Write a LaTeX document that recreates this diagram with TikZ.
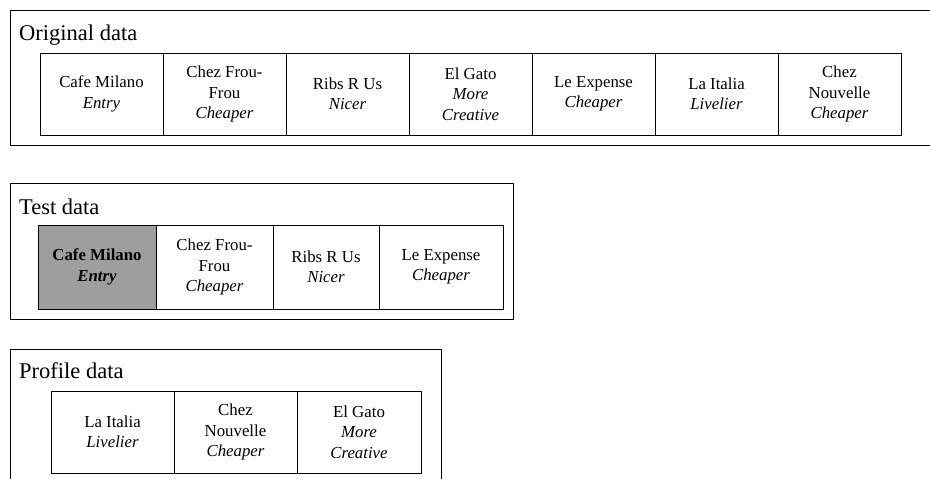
\documentclass[tikz,border=0pt]{standalone}
\usepackage{fontspec}
\setmainfont{Liberation Serif}
\tikzset{
  frame/.style={draw=black, line width=0.9pt},
  title/.style={anchor=base west, inner sep=0pt, font=\fontsize{22.5}{26}\selectfont},
  cell/.style={draw=black, line width=1pt, inner sep=0pt, align=center,
    font=\fontsize{16.8}{20.5}\selectfont},
  shaded/.style={cell, fill=black!38}
}
\begin{document}
\begin{tikzpicture}[x=1pt,y=-1pt]
\clip (0,0) rectangle (930,479);
\fill[white] (0,0) rectangle (930,479);
% Original data
\draw[frame] (945,10) -- (10,10) -- (10,145) -- (945,145);
\node[title] (t1) at (19,40) {Original data};
\node[cell, minimum width=123pt, minimum height=82pt] (o1) at (101.5,94) {Cafe Milano\\\textit{Entry}};
\node[cell, minimum width=123pt, minimum height=82pt] (o2) at (224.5,94) {Chez Frou-\\Frou\\\textit{Cheaper}};
\node[cell, minimum width=123pt, minimum height=82pt] (o3) at (347.5,94) {Ribs R Us\\\textit{Nicer}};
\node[cell, minimum width=123pt, minimum height=82pt] (o4) at (470.5,94) {El Gato\\\textit{More}\\\textit{Creative}};
\node[cell, minimum width=123pt, minimum height=82pt] (o5) at (593.5,94) {Le Expense\\\textit{Cheaper}};
\node[cell, minimum width=123pt, minimum height=82pt] (o6) at (716.5,94) {La Italia\\\textit{Livelier}};
\node[cell, minimum width=123pt, minimum height=82pt] (o7) at (839.5,94) {Chez\\Nouvelle\\\textit{Cheaper}};
% Test data
\draw[frame] (10,183) rectangle (513,319);
\node[title] (t2) at (19,214) {Test data};
\node[shaded, minimum width=118pt, minimum height=84pt] (s1) at (97,267) {\textbf{Cafe Milano}\\\textbf{\textit{Entry}}};
\node[cell, minimum width=117pt, minimum height=84pt] (s2) at (214.5,267) {Chez Frou-\\Frou\\\textit{Cheaper}};
\node[cell, minimum width=106pt, minimum height=84pt] (s3) at (326,267) {Ribs R Us\\\textit{Nicer}};
\node[cell, minimum width=124pt, minimum height=84pt] (s4) at (441,267) {Le Expense\\\textit{Cheaper}};
% Profile data
\draw[frame] (10,495) -- (10,349) -- (441,349) -- (441,495);
\node[title] (t3) at (19,378) {Profile data};
\node[cell, minimum width=123pt, minimum height=82pt] (p1) at (112.5,432) {La Italia\\\textit{Livelier}};
\node[cell, minimum width=123pt, minimum height=82pt] (p2) at (235.5,432) {Chez\\Nouvelle\\\textit{Cheaper}};
\node[cell, minimum width=124pt, minimum height=82pt] (p3) at (359,432) {El Gato\\\textit{More}\\\textit{Creative}};
\end{tikzpicture}
\end{document}
